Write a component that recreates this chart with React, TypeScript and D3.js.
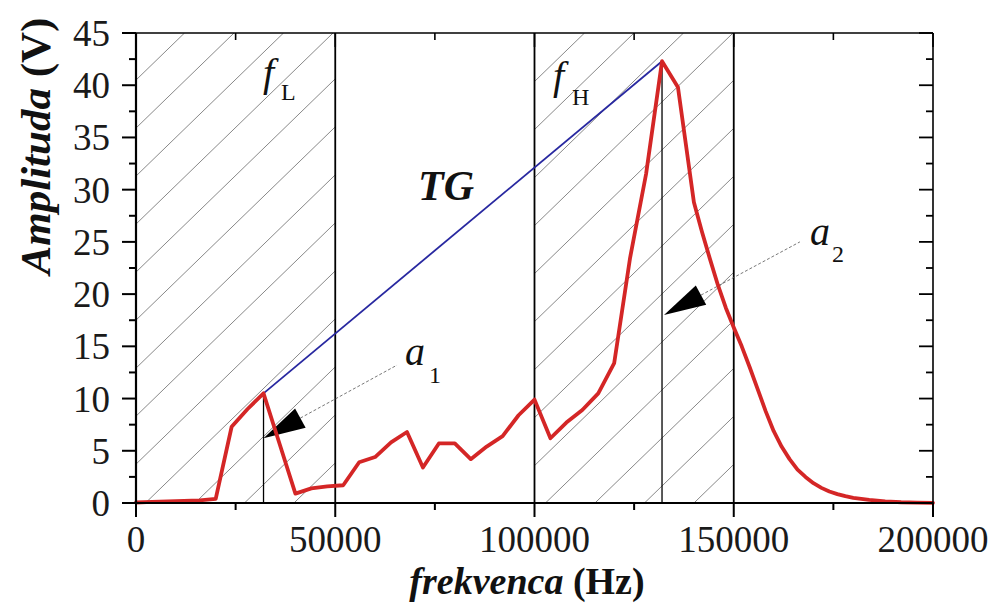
import React from 'react';
import * as d3 from 'd3';

const freq = [0, 4000, 8000, 12000, 16000, 20000, 24000, 28000, 32000, 36000, 40000, 44000, 48000, 52000, 56000, 60000, 64000, 68000, 72000, 76000, 80000, 84000, 88000, 92000, 96000, 100000, 104000, 108000, 112000, 116000, 120000, 124000, 128000, 132000, 136000, 140000, 142000, 144000, 146000, 148000, 150000, 152000, 154000, 156000, 158000, 160000, 162000, 164000, 166000, 168000, 170000, 172000, 174000, 176000, 178000, 180000, 184000, 188000, 192000, 196000, 200000];
const amp = [0.05, 0.1, 0.15, 0.2, 0.25, 0.4, 7.3, 9.0, 10.5, 5.7, 0.9, 1.4, 1.6, 1.7, 3.9, 4.4, 5.8, 6.8, 3.4, 5.7, 5.7, 4.2, 5.4, 6.4, 8.4, 9.9, 6.2, 7.7, 8.9, 10.5, 13.4, 23.5, 31.5, 42.3, 39.8, 28.8, 26.0, 23.4, 20.9, 18.7, 16.8, 15.0, 13.0, 10.9, 8.8, 6.9, 5.4, 4.2, 3.2, 2.5, 1.9, 1.45, 1.1, 0.85, 0.65, 0.5, 0.3, 0.15, 0.07, 0.03, 0.02];

const xMajor = [0, 50000, 100000, 150000, 200000];
const xMinor = [25000, 75000, 125000, 175000];
const yMajor = [0, 5, 10, 15, 20, 25, 30, 35, 40, 45];
const yMinor = [2.5, 7.5, 12.5, 17.5, 22.5, 27.5, 32.5, 37.5, 42.5];
const hatchBands = [[0, 50000], [100000, 150000]];
const boundaries = [50000, 100000, 150000];
const lowPeak = { f: 32000, a: 10.5 };
const highPeak = { f: 132000, a: 42.3 };
// annotation arrows: tip and leader end (data units)
const arrowA1 = { tipF: 32000, tipA: 6.2, endF: 65500, endA: 13.2 };
const arrowA2 = { tipF: 132500, tipA: 18.0, endF: 166600, endA: 25.0 };

const FONT = '"Liberation Serif", "Times New Roman", serif';

export default function App() {
  const W = 992, H = 612;
  const x = d3.scaleLinear().domain([0, 200000]).range([136, 933]);
  const y = d3.scaleLinear().domain([0, 45]).range([503, 33]);
  const top = y(45), bottom = y(0), left = x(0), right = x(200000);

  const line = d3.line<number>().x((_, i) => x(freq[i])).y((d) => y(d));
  const curve = line(amp) || '';

  const hatchPhase = [333, 733];
  const spacing = 49.5;
  const slope = 0.97;

  const arrow = (a: typeof arrowA1) => {
    const tx = x(a.tipF), ty = y(a.tipA);
    const ex = x(a.endF), ey = y(a.endA);
    const dx = ex - tx, dy = ey - ty;
    const len = Math.hypot(dx, dy);
    const ux = dx / len, uy = dy / len;
    const L = 42, hw = 11;
    const bx = tx + ux * L, by = ty + uy * L;
    const nx = -uy, ny = ux;
    const pts = `${tx},${ty} ${bx + nx * hw},${by + ny * hw} ${bx - nx * hw},${by - ny * hw}`;
    return (
      <g>
        <line x1={bx} y1={by} x2={ex} y2={ey} stroke="#555" strokeWidth={0.8} strokeDasharray="3,2" />
        <polygon points={pts} fill="#000" />
      </g>
    );
  };

  return (
    <svg width={W} height={H} style={{ position: 'absolute', left: 0, top: 0, background: '#fff' }} fontFamily={FONT}>
      <defs>
        {hatchBands.map((b, i) => (
          <clipPath id={`band${i}`} key={i}>
            <rect x={x(b[0])} y={top} width={x(b[1]) - x(b[0])} height={bottom - top} />
          </clipPath>
        ))}
      </defs>
      <rect x={0} y={0} width={W} height={H} fill="#fff" />

      {/* hatching */}
      {hatchBands.map((b, i) => (
        <g clipPath={`url(#band${i})`} key={i}>
          {d3.range(-14, 14).map((k) => {
            const x0 = hatchPhase[i] + k * spacing;
            const x1 = x0 - (bottom - top) / slope;
            return <line key={k} x1={x0} y1={top} x2={x1} y2={bottom} stroke="#6a6a6a" strokeWidth={0.8} />;
          })}
        </g>
      ))}

      {/* boundary lines */}
      {boundaries.map((f) => (
        <line key={f} x1={x(f)} x2={x(f)} y1={top} y2={bottom} stroke="#000" strokeWidth={1.8} />
      ))}

      {/* peak verticals */}
      <line x1={x(lowPeak.f)} x2={x(lowPeak.f)} y1={y(lowPeak.a)} y2={bottom} stroke="#000" strokeWidth={1.3} />
      <line x1={x(highPeak.f)} x2={x(highPeak.f)} y1={y(highPeak.a)} y2={bottom} stroke="#000" strokeWidth={1.3} />

      {/* TG line */}
      <line x1={x(lowPeak.f)} y1={y(lowPeak.a)} x2={x(highPeak.f)} y2={y(highPeak.a)} stroke="#2828a0" strokeWidth={1.8} />

      {/* arrows */}
      {arrow(arrowA1)}
      {arrow(arrowA2)}

      {/* red curve */}
      <path d={curve} fill="none" stroke="#d42626" strokeWidth={3.8} strokeLinejoin="round" strokeLinecap="round" />

      {/* frame */}
      <line x1={left} x2={right} y1={top} y2={top} stroke="#000" strokeWidth={1.6} />
      <line x1={right} x2={right} y1={top} y2={bottom} stroke="#000" strokeWidth={1.6} />
      <line x1={left} x2={left} y1={top} y2={bottom + 0.5} stroke="#000" strokeWidth={2.2} />
      <line x1={left - 1} x2={right} y1={bottom} y2={bottom} stroke="#000" strokeWidth={2.2} />

      {/* bottom ticks (outward) */}
      {xMajor.map((v) => (
        <line key={'bM' + v} x1={x(v)} x2={x(v)} y1={bottom} y2={bottom + 14} stroke="#000" strokeWidth={2} />
      ))}
      {xMinor.map((v) => (
        <line key={'bm' + v} x1={x(v)} x2={x(v)} y1={bottom} y2={bottom + 7} stroke="#000" strokeWidth={2} />
      ))}
      {/* top ticks (inward) */}
      {xMajor.map((v) => (
        <line key={'tM' + v} x1={x(v)} x2={x(v)} y1={top} y2={top + 14} stroke="#000" strokeWidth={1.6} />
      ))}
      {xMinor.map((v) => (
        <line key={'tm' + v} x1={x(v)} x2={x(v)} y1={top} y2={top + 7} stroke="#000" strokeWidth={1.6} />
      ))}
      {/* left ticks (outward) */}
      {yMajor.map((v) => (
        <line key={'lM' + v} x1={left - 14} x2={left} y1={y(v)} y2={y(v)} stroke="#000" strokeWidth={2} />
      ))}
      {yMinor.map((v) => (
        <line key={'lm' + v} x1={left - 7} x2={left} y1={y(v)} y2={y(v)} stroke="#000" strokeWidth={2} />
      ))}
      {/* right ticks (inward) */}
      {yMajor.map((v) => (
        <line key={'rM' + v} x1={right - 14} x2={right} y1={y(v)} y2={y(v)} stroke="#000" strokeWidth={1.8} />
      ))}
      {yMinor.map((v) => (
        <line key={'rm' + v} x1={right - 7} x2={right} y1={y(v)} y2={y(v)} stroke="#000" strokeWidth={1.8} />
      ))}

      {/* tick labels */}
      {xMajor.map((v) => (
        <text key={'xl' + v} x={x(v)} y={552} fontSize={37} textAnchor="middle" fill="#1a1a1a">{v}</text>
      ))}
      {yMajor.map((v) => (
        <text key={'yl' + v} x={110} y={y(v)} dy="0.35em" fontSize={37} textAnchor="end" fill="#1a1a1a">{v}</text>
      ))}

      {/* axis titles */}
      <text x={527} y={594} fontSize={38} textAnchor="middle" fontWeight="bold" fill="#111">
        <tspan fontStyle="italic">frekvenca</tspan>
        <tspan> (Hz)</tspan>
      </text>
      <text transform="translate(50,146) rotate(-90)" fontSize={43} textAnchor="middle" fontWeight="bold" fill="#111">
        <tspan fontStyle="italic">Amplituda</tspan>
        <tspan> (V)</tspan>
      </text>

      {/* annotations */}
      <text x={263} y={86} fontSize={40} fontStyle="italic" fill="#111">f</text>
      <text x={281} y={100} fontSize={24} fill="#111">L</text>
      <text x={553} y={89} fontSize={40} fontStyle="italic" fill="#111">f</text>
      <text x={572} y={105} fontSize={24} fill="#111">H</text>
      <text x={418} y={200} fontSize={42} fontStyle="italic" fontWeight="bold" fill="#111">TG</text>
      <text x={405} y={365} fontSize={40} fontStyle="italic" fill="#111">a</text>
      <text x={429} y={383} fontSize={24} fill="#111">1</text>
      <text x={810} y={245} fontSize={40} fontStyle="italic" fill="#111">a</text>
      <text x={832} y={262} fontSize={24} fill="#111">2</text>
    </svg>
  );
}
